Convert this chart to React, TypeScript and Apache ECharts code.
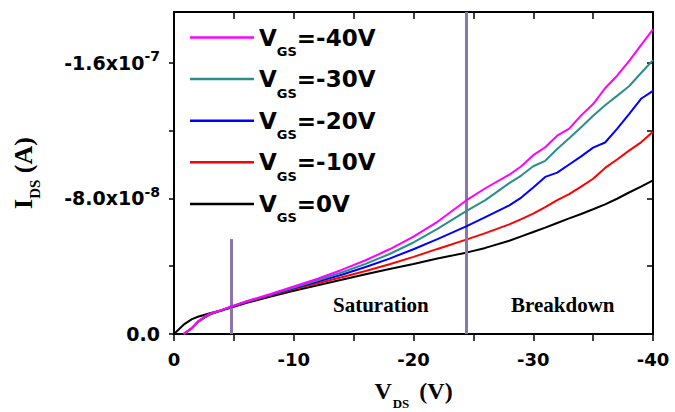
import React, { useEffect, useRef } from "react";
import * as echarts from "echarts";

// Drain voltage V_DS (V)
const vds = [0, -0.8, -1.5, -2, -2.5, -3, -4, -4.8, -6, -8, -10, -12, -14, -16, -18, -20, -22, -24.4, -26, -28, -29, -30, -31, -32, -33, -34, -35, -36, -37, -38, -39, -40];

// I_DS in units of 1e-8 A (null = no measurement)
const idsVgs0 = [0, -0.55, -0.88, -1.02, -1.12, -1.22, -1.4, -1.56, -1.82, -2.2, -2.55, -2.88, -3.2, -3.52, -3.83, -4.13, -4.45, -4.8, -5.08, -5.5, -5.76, -6.02, -6.28, -6.55, -6.82, -7.08, -7.36, -7.65, -7.98, -8.35, -8.7, -9.06];
const idsVgs10 = [null, 0, -0.35, -0.7, -0.95, -1.15, -1.4, -1.6, -1.86, -2.25, -2.65, -3.0, -3.35, -3.72, -4.12, -4.55, -5.02, -5.57, -5.95, -6.47, -6.78, -7.1, -7.49, -7.9, -8.25, -8.7, -9.16, -9.8, -10.3, -10.82, -11.31, -11.94];
const idsVgs20 = [null, 0, -0.35, -0.72, -0.97, -1.17, -1.4, -1.61, -1.88, -2.28, -2.7, -3.1, -3.5, -3.95, -4.45, -5.0, -5.6, -6.35, -6.9, -7.59, -8.05, -8.65, -9.27, -9.52, -10.0, -10.48, -11.0, -11.3, -12.1, -12.97, -13.88, -14.35];
const idsVgs30 = [null, 0, -0.35, -0.73, -0.98, -1.18, -1.41, -1.62, -1.9, -2.31, -2.74, -3.17, -3.63, -4.14, -4.72, -5.4, -6.2, -7.25, -7.9, -8.9, -9.35, -9.9, -10.22, -10.92, -11.55, -12.2, -12.88, -13.5, -14.05, -14.62, -15.4, -16.16];
const idsVgs40 = [null, 0, -0.35, -0.74, -1.0, -1.2, -1.42, -1.63, -1.92, -2.35, -2.8, -3.26, -3.78, -4.35, -5.0, -5.75, -6.62, -7.88, -8.6, -9.4, -9.9, -10.55, -11.02, -11.7, -12.12, -12.9, -13.57, -14.5, -15.24, -16.1, -17.05, -17.98];
const IDS_UNIT = 1e-8;

// legend order (top to bottom) and drawing order
const legendNames = ["-40V", "-30V", "-20V", "-10V", "0V"];
const seriesNames = ["0V", "-10V", "-20V", "-30V", "-40V"];
const seriesValues = [idsVgs0, idsVgs10, idsVgs20, idsVgs30, idsVgs40];
const seriesColors = ["#000000", "#ff0000", "#0000ff", "#2a8f8a", "#ff00ff"];

// axes
const xMin = -40;
const xMax = 0;
const xTicks = [0, -5, -10, -15, -20, -25, -30, -35, -40];
const xLabels = [0, -10, -20, -30, -40];
const yMin = -1.9e-7;
const yMax = 0;
const yTicks = [0, -4e-8, -8e-8, -1.2e-7, -1.6e-7];
const yLabelValues = [0, -8e-8, -1.6e-7];
const yLabelMantissa = ["0.0", "-8.0x10", "-1.6x10"];
const yLabelExponent = ["", "-8", "-7"];

// region markers
const saturationOnset = -4.8;
const saturationMarkerTop = -5.6e-8;
const breakdownOnset = -24.4;
const regionLabels = ["Saturation", "Breakdown"];

const SANS = "'DejaVu Sans', 'Liberation Sans', Arial, sans-serif";
const SERIF = "'Liberation Serif', 'Times New Roman', serif";

export default function App() {
  const ref = useRef<HTMLDivElement>(null);
  useEffect(() => {
    if (!ref.current) return;
    const chart = echarts.init(ref.current, undefined, { renderer: "svg" });

    const series: any[] = seriesNames.map((name, si) => {
      const vals = seriesValues[si];
      const data: any[] = [];
      vds.forEach((v, i) => {
        const y = vals[i];
        if (y !== null && y !== undefined) data.push([v, y * IDS_UNIT]);
      });
      const s: any = {
        name,
        type: "line",
        data,
        showSymbol: false,
        symbol: "none",
        color: seriesColors[si],
        lineStyle: { width: 2, color: seriesColors[si] },
        z: 3 + si,
      };
      if (si === seriesNames.length - 1) {
        s.markLine = {
          silent: true,
          symbol: ["none", "none"],
          label: { show: false },
          lineStyle: { color: "#8a76aa", width: 3, type: "solid" },
          data: [
            [{ coord: [saturationOnset, saturationMarkerTop] }, { coord: [saturationOnset, 0] }],
            { xAxis: breakdownOnset },
          ],
        };
      }
      return s;
    });

    const xAxisCommon = {
      type: "value",
      min: xMin,
      max: xMax,
      inverse: true,
      splitLine: { show: false },
      axisLine: { show: true, onZero: false, lineStyle: { color: "#000", width: 2 } },
    };
    const yAxisCommon = {
      type: "value",
      min: yMin,
      max: yMax,
      inverse: true,
      splitLine: { show: false },
      axisLine: { show: true, onZero: false, lineStyle: { color: "#000", width: 2 } },
    };

    const option: any = {
      animation: false,
      backgroundColor: "#ffffff",
      grid: { left: 174, right: 22, top: 12, bottom: 78, containLabel: false, outerBoundsMode: "none" },
      legend: {
        orient: "vertical",
        left: 190,
        top: 17,
        padding: 0,
        itemGap: 0.6,
        itemWidth: 64,
        itemHeight: 2.5,
        icon: "rect",
        selectedMode: false,
        data: legendNames,
        formatter: (name: string) => `{v|V}{sub|GS}{v|=${name}}`,
        textStyle: {
          rich: {
            v: { fontFamily: SANS, fontWeight: "bold", fontSize: 23, lineHeight: 40, color: "#000" },
            sub: { fontFamily: SANS, fontWeight: "bold", fontSize: 13, lineHeight: 10, padding: [28, 0, 0, 0], color: "#000" },
          },
        },
      },
      xAxis: [
        {
          ...xAxisCommon,
          position: "bottom",
          axisTick: { show: true, inside: false, length: 7, customValues: xTicks, lineStyle: { color: "#000", width: 1.5 } },
          axisLabel: {
            show: true,
            customValues: xLabels,
            margin: 16,
            fontFamily: SANS,
            fontWeight: "bold",
            fontSize: 18,
            color: "#000",
            formatter: (v: number) => String(v),
          },
          name: "{n|V}{sub|DS}{n| (V)}",
          nameLocation: "middle",
          nameGap: 31,
          nameTextStyle: {
            rich: {
              n: { fontFamily: SERIF, fontWeight: "bold", fontSize: 24, lineHeight: 36, color: "#000" },
              sub: { fontFamily: SERIF, fontWeight: "bold", fontSize: 13, lineHeight: 10, padding: [24, 4, 0, 1], color: "#000" },
            },
          },
        },
        {
          ...xAxisCommon,
          position: "top",
          axisTick: { show: true, inside: true, length: 7, customValues: xTicks, lineStyle: { color: "#000", width: 1.5 } },
          axisLabel: { show: false },
        },
      ],
      yAxis: [
        {
          ...yAxisCommon,
          position: "left",
          axisTick: { show: true, inside: false, length: 5, customValues: yTicks, lineStyle: { color: "#000", width: 1.5 } },
          axisLabel: {
            show: true,
            customValues: yLabelValues,
            margin: 14,
            formatter: (v: number) => {
              const i = yLabelValues.findIndex((t) => Math.abs(t - v) < 1e-12);
              if (i < 0) return "";
              return yLabelExponent[i]
                ? `{m|${yLabelMantissa[i]}}{sup|${yLabelExponent[i]}}`
                : `{m|${yLabelMantissa[i]}}`;
            },
            rich: {
              m: { fontFamily: SANS, fontWeight: "bold", fontSize: 19, lineHeight: 30, color: "#000" },
              sup: { fontFamily: SANS, fontWeight: "bold", fontSize: 14, lineHeight: 12, padding: [0, 0, 13, 0], color: "#000" },
            },
          },
          name: "{n|I}{sub|DS}{n| (A)}",
          nameLocation: "middle",
          nameGap: 130,
          nameTextStyle: {
            rich: {
              n: { fontFamily: SERIF, fontWeight: "bold", fontSize: 26, lineHeight: 42, color: "#000" },
              sub: { fontFamily: SERIF, fontWeight: "bold", fontSize: 15, lineHeight: 14, padding: [24, 0, 0, 0], color: "#000" },
            },
          },
        },
        {
          ...yAxisCommon,
          position: "right",
          axisTick: { show: true, inside: true, length: 6, customValues: yTicks, lineStyle: { color: "#000", width: 1.5 } },
          axisLabel: { show: false },
        },
      ],
      graphic: [
        {
          type: "text",
          left: 333,
          top: 294,
          style: { text: regionLabels[0], font: `bold 21px ${SERIF}`, fill: "#000" },
        },
        {
          type: "text",
          left: 511,
          top: 294,
          style: { text: regionLabels[1], font: `bold 21px ${SERIF}`, fill: "#000" },
        },
      ],
      series,
    };

    chart.setOption(option);
    return () => chart.dispose();
  }, []);

  return (
    <div
      ref={ref}
      style={{ position: "absolute", left: 0, top: 0, width: 675, height: 412, background: "#fff" }}
    />
  );
}
